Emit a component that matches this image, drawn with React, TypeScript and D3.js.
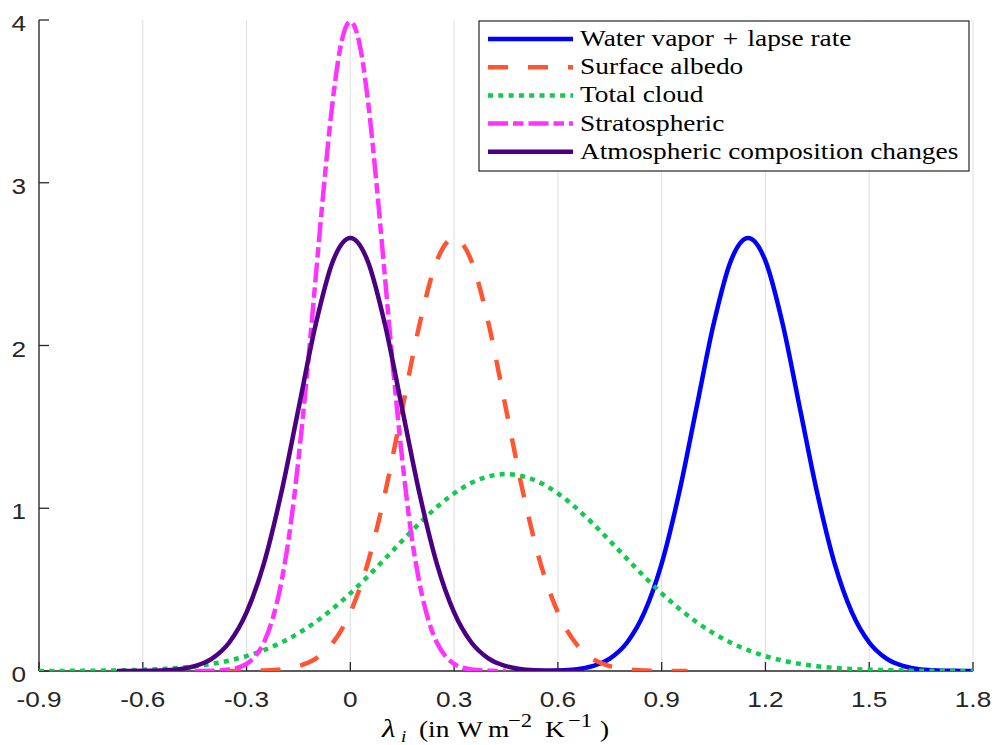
import React from "react";
import * as d3 from "d3";

// ---------- data ----------
const xTicks = [-0.9, -0.6, -0.3, 0, 0.3, 0.6, 0.9, 1.2, 1.5, 1.8];
const xTickLabels = ["-0.9", "-0.6", "-0.3", "0", "0.3", "0.6", "0.9", "1.2", "1.5", "1.8"];
const yTicks = [0, 1, 2, 3, 4];
const yTickLabels = ["0", "1", "2", "3", "4"];

const seriesNames = [
  "Water vapor\u2004+\u2004lapse rate",
  "Surface albedo",
  "Total cloud",
  "Stratospheric",
  "Atmospheric composition changes",
];

const waterVaporX = [0.475, 0.5, 0.55, 0.6, 0.65, 0.7, 0.75, 0.8, 0.85, 0.9, 0.95, 1.0, 1.05, 1.1, 1.15, 1.2, 1.25, 1.3, 1.35, 1.4, 1.45, 1.5, 1.55, 1.6, 1.65, 1.7, 1.75, 1.8];
const waterVaporY = [0, 0.0002, 0.001, 0.003, 0.01, 0.03, 0.076, 0.175, 0.36, 0.66, 1.09, 1.61, 2.13, 2.52, 2.66, 2.52, 2.13, 1.61, 1.09, 0.66, 0.36, 0.175, 0.076, 0.03, 0.01, 0.003, 0.001, 0.0002];

const albedoX = [-0.375, -0.35, -0.3, -0.25, -0.2, -0.15, -0.1, -0.05, 0, 0.05, 0.1, 0.15, 0.2, 0.25, 0.3, 0.35, 0.4, 0.45, 0.5, 0.55, 0.6, 0.65, 0.7, 0.75, 0.8, 0.85, 0.9, 0.95, 0.975];
const albedoY = [0, 0.0002, 0.001, 0.003, 0.01, 0.03, 0.076, 0.175, 0.36, 0.66, 1.09, 1.61, 2.13, 2.52, 2.66, 2.52, 2.13, 1.61, 1.09, 0.66, 0.36, 0.175, 0.076, 0.03, 0.01, 0.003, 0.001, 0.0002, 0];

const cloudX = [-0.9, -0.85, -0.8, -0.75, -0.7, -0.65, -0.6, -0.55, -0.5, -0.45, -0.4, -0.35, -0.3, -0.25, -0.2, -0.15, -0.1, -0.05, 0, 0.05, 0.1, 0.15, 0.2, 0.25, 0.3, 0.35, 0.4, 0.45, 0.5, 0.55, 0.6, 0.65, 0.7, 0.75, 0.8, 0.85, 0.9, 0.95, 1.0, 1.05, 1.1, 1.15, 1.2, 1.25, 1.3, 1.35, 1.4, 1.45, 1.5, 1.55, 1.6, 1.65, 1.7, 1.75, 1.8];
const cloudY = [0.0003, 0.0005, 0.0009, 0.0016, 0.0028, 0.005, 0.0077, 0.012, 0.0192, 0.029, 0.0439, 0.064, 0.0915, 0.128, 0.174, 0.232, 0.302, 0.384, 0.477, 0.58, 0.689, 0.8, 0.908, 1.007, 1.091, 1.156, 1.196, 1.21, 1.196, 1.156, 1.091, 1.007, 0.908, 0.8, 0.689, 0.58, 0.477, 0.384, 0.302, 0.232, 0.174, 0.128, 0.0915, 0.064, 0.0439, 0.029, 0.0192, 0.012, 0.0077, 0.005, 0.0028, 0.0016, 0.0009, 0.0005, 0.0003];

const stratX = [-0.45, -0.4, -0.35, -0.325, -0.3, -0.275, -0.25, -0.225, -0.2, -0.175, -0.15, -0.125, -0.1, -0.075, -0.05, -0.025, 0, 0.025, 0.05, 0.075, 0.1, 0.125, 0.15, 0.175, 0.2, 0.225, 0.25, 0.275, 0.3, 0.325, 0.35, 0.4, 0.45];
const stratY = [0.0002, 0.0013, 0.009, 0.02, 0.044, 0.091, 0.175, 0.318, 0.54, 0.86, 1.3, 1.83, 2.42, 3.01, 3.52, 3.87, 3.99, 3.87, 3.52, 3.01, 2.42, 1.83, 1.3, 0.86, 0.54, 0.318, 0.175, 0.091, 0.044, 0.02, 0.009, 0.0013, 0.0002];

const atmosX = [-0.675, -0.65, -0.6, -0.55, -0.5, -0.45, -0.4, -0.35, -0.3, -0.25, -0.2, -0.15, -0.1, -0.05, 0, 0.05, 0.1, 0.15, 0.2, 0.25, 0.3, 0.35, 0.4, 0.45, 0.5, 0.55, 0.6, 0.65, 0.675];
const atmosY = [0, 0.0002, 0.001, 0.003, 0.01, 0.03, 0.076, 0.175, 0.36, 0.66, 1.09, 1.61, 2.13, 2.52, 2.66, 2.52, 2.13, 1.61, 1.09, 0.66, 0.36, 0.175, 0.076, 0.03, 0.01, 0.003, 0.001, 0.0002, 0];

// ---------- layout & styles ----------
const W = 996;
const H = 745;
const PLOT = { left: 39, right: 973, top: 20, bottom: 671 };
const AXIS_COLOR = "#262626";
const GRID_COLOR = "#e3e3e3";
const SANS = "Liberation Sans, Arial, Helvetica, sans-serif";
const SERIF = "Liberation Serif, Times New Roman, Times, serif";
const STRETCH = 1.19;
const LW = 4.5;

const styles = [
  { color: "#0000ff", dash: "none" },
  { color: "#ff5533", dash: "20,20" },
  { color: "#15c850", dash: "5,5.3" },
  { color: "#ff33ff", dash: "20,5,10.5,5" },
  { color: "#4b0082", dash: "none" },
];

const seriesX = [waterVaporX, albedoX, cloudX, stratX, atmosX];
const seriesY = [waterVaporY, albedoY, cloudY, stratY, atmosY];

function SText({ x, y, anchor = "start", size, family, children, fill = "#000" }: any) {
  return (
    <g transform={`translate(${x},${y}) scale(${STRETCH},1)`}>
      <text x={0} y={0} textAnchor={anchor} fontSize={size} fill={fill} style={{ fontFamily: family }}>
        {children}
      </text>
    </g>
  );
}

export default function App() {
  const x = d3.scaleLinear().domain([-0.9, 1.8]).range([PLOT.left, PLOT.right]);
  const y = d3.scaleLinear().domain([0, 4]).range([PLOT.bottom, PLOT.top]);

  const line = d3
    .line<[number, number]>()
    .x((d) => x(d[0]))
    .y((d) => y(d[1]))
    .curve(d3.curveMonotoneX);

  const paths = seriesX.map((xs, i) => line(xs.map((v, j) => [v, seriesY[i][j]] as [number, number])) || "");

  const legend = { left: 479, top: 21, right: 969, bottom: 171, row0: 39, rowStep: 28.2, lineX0: 488, lineX1: 573, textX: 580 };

  // x-label typesetting (unscaled offsets inside the stretched group)
  const lab = { x: 382, y: 737 };
  const off = (px: number) => (px - lab.x) / STRETCH;

  return (
    <svg
      width={W}
      height={H}
      style={{ position: "absolute", left: 0, top: 0, background: "#fff" }}
      xmlns="http://www.w3.org/2000/svg"
    >
      <rect x={0} y={0} width={W} height={H} fill="#fff" />
      <defs>
        <clipPath id="plotClip">
          <rect x={PLOT.left} y={PLOT.top - 10} width={PLOT.right - PLOT.left} height={PLOT.bottom - PLOT.top + 10} />
        </clipPath>
      </defs>

      {/* vertical grid */}
      {xTicks.map((t) => (
        <line key={"g" + t} x1={x(t)} x2={x(t)} y1={PLOT.top} y2={PLOT.bottom} stroke={GRID_COLOR} strokeWidth={1.2} />
      ))}

      {/* axes */}
      <line x1={PLOT.left} x2={PLOT.left} y1={PLOT.top} y2={PLOT.bottom} stroke={AXIS_COLOR} strokeWidth={1.3} />
      <line x1={PLOT.left} x2={PLOT.right} y1={PLOT.bottom} y2={PLOT.bottom} stroke={AXIS_COLOR} strokeWidth={1.3} />
      {yTicks.map((t) => (
        <line key={"yt" + t} x1={PLOT.left} x2={PLOT.left + 10} y1={y(t)} y2={y(t)} stroke={AXIS_COLOR} strokeWidth={1.3} />
      ))}
      {xTicks.map((t) => (
        <line key={"xt" + t} x1={x(t)} x2={x(t)} y1={PLOT.bottom} y2={PLOT.bottom - 9} stroke={AXIS_COLOR} strokeWidth={1.3} />
      ))}

      {/* tick labels */}
      {yTicks.map((t, i) => (
        <SText key={"yl" + t} x={26} y={y(t) + 11} anchor="end" size={22} family={SANS} fill={AXIS_COLOR}>
          {yTickLabels[i]}
        </SText>
      ))}
      {xTicks.map((t, i) => (
        <SText key={"xl" + t} x={x(t)} y={PLOT.bottom + 36} anchor="middle" size={22} family={SANS} fill={AXIS_COLOR}>
          {xTickLabels[i]}
        </SText>
      ))}

      {/* x-axis label */}
      <SText x={lab.x} y={lab.y} size={23} family={SERIF}>
        <tspan x={0} fontStyle="italic" fontSize={26}>λ</tspan>
        <tspan x={off(401)} fontStyle="italic" fontSize={16} dy={5}>i</tspan>
        <tspan x={off(419)} dy={-5}>(in</tspan>
        <tspan x={off(457)}>W</tspan>
        <tspan x={off(488)}>m</tspan>
        <tspan x={off(508)} fontSize={19} dy={-10}>{"\u22122"}</tspan>
        <tspan x={off(545)} dy={10}>K</tspan>
        <tspan x={off(568)} fontSize={19} dy={-10}>{"\u22121"}</tspan>
        <tspan x={off(600)} dy={10}>)</tspan>
      </SText>

      {/* curves */}
      <g clipPath="url(#plotClip)">
        {paths.map((p, i) => (
          <path
            key={"c" + i}
            d={p}
            fill="none"
            stroke={styles[i].color}
            strokeWidth={LW}
            strokeDasharray={styles[i].dash}
            strokeLinecap="butt"
            strokeLinejoin="round"
          />
        ))}
      </g>

      {/* legend */}
      <rect
        x={legend.left}
        y={legend.top}
        width={legend.right - legend.left}
        height={legend.bottom - legend.top}
        fill="#fff"
        stroke={AXIS_COLOR}
        strokeWidth={1.2}
      />
      {seriesNames.map((name, i) => {
        const ry = legend.row0 + i * legend.rowStep;
        return (
          <g key={"lg" + i}>
            <line
              x1={legend.lineX0}
              x2={legend.lineX1}
              y1={ry}
              y2={ry}
              stroke={styles[i].color}
              strokeWidth={LW}
              strokeDasharray={styles[i].dash}
              strokeLinecap="butt"
            />
            <SText x={legend.textX} y={ry + 7} size={23} family={SERIF}>
              {name}
            </SText>
          </g>
        );
      })}
    </svg>
  );
}
